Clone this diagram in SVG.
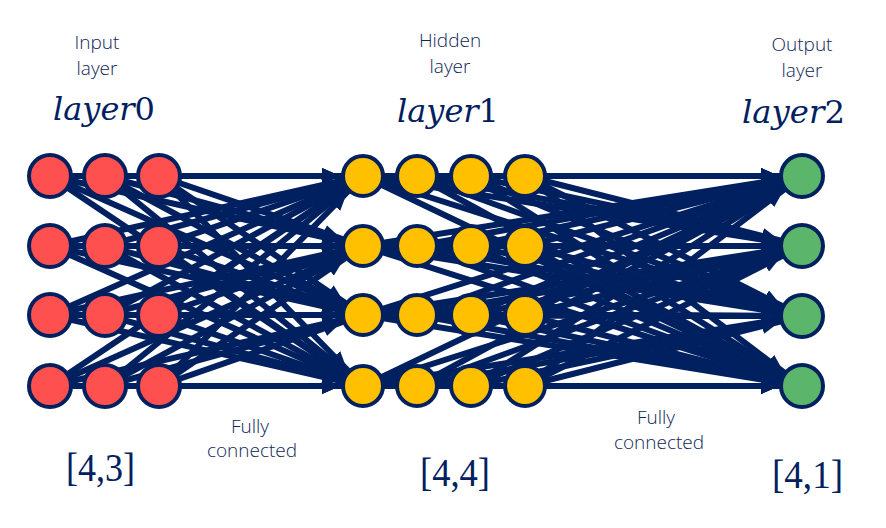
<svg xmlns="http://www.w3.org/2000/svg" width="886" height="528" viewBox="0 0 886 528">
<style>
.e{stroke:#002060;stroke-width:6;fill:none;marker-end:url(#ah)}
.n{stroke:#002060;stroke-width:4}
.r{fill:#FF5050}.y{fill:#FFC000}.g{fill:#5BB56A}
.lab{font-family:"Open Sans","Noto Sans",sans-serif;font-weight:300;font-size:19px;fill:#0f2658;text-anchor:middle}
.m{font-family:"DejaVu Serif",serif;font-style:italic;font-size:31px;fill:#002060}
.b{font-family:"Liberation Serif",serif;font-size:40px;fill:#002060}
</style>
<defs>
<marker id="ah" viewBox="0 0 18 16" refX="41" refY="8" markerWidth="18" markerHeight="16" markerUnits="userSpaceOnUse" orient="auto">
<path d="M0,0 L18,8 L0,16 Z" fill="#002060"/>
</marker>
</defs>
<rect width="886" height="528" fill="#fff"/>
<g id="connectors">
<line class="e" x1="50" y1="176" x2="363" y2="176"/><line class="e" x1="50" y1="176" x2="363" y2="246"/><line class="e" x1="50" y1="176" x2="363" y2="315"/><line class="e" x1="50" y1="176" x2="363" y2="386"/>
<line class="e" x1="50" y1="246" x2="363" y2="176"/><line class="e" x1="50" y1="246" x2="363" y2="246"/><line class="e" x1="50" y1="246" x2="363" y2="315"/><line class="e" x1="50" y1="246" x2="363" y2="386"/>
<line class="e" x1="50" y1="315" x2="363" y2="176"/><line class="e" x1="50" y1="315" x2="363" y2="246"/><line class="e" x1="50" y1="315" x2="363" y2="315"/><line class="e" x1="50" y1="315" x2="363" y2="386"/>
<line class="e" x1="50" y1="386" x2="363" y2="176"/><line class="e" x1="50" y1="386" x2="363" y2="246"/><line class="e" x1="50" y1="386" x2="363" y2="315"/><line class="e" x1="50" y1="386" x2="363" y2="386"/>
<line class="e" x1="105" y1="176" x2="363" y2="176"/><line class="e" x1="105" y1="176" x2="363" y2="246"/><line class="e" x1="105" y1="176" x2="363" y2="315"/><line class="e" x1="105" y1="176" x2="363" y2="386"/>
<line class="e" x1="105" y1="246" x2="363" y2="176"/><line class="e" x1="105" y1="246" x2="363" y2="246"/><line class="e" x1="105" y1="246" x2="363" y2="315"/><line class="e" x1="105" y1="246" x2="363" y2="386"/>
<line class="e" x1="105" y1="315" x2="363" y2="176"/><line class="e" x1="105" y1="315" x2="363" y2="246"/><line class="e" x1="105" y1="315" x2="363" y2="315"/><line class="e" x1="105" y1="315" x2="363" y2="386"/>
<line class="e" x1="105" y1="386" x2="363" y2="176"/><line class="e" x1="105" y1="386" x2="363" y2="246"/><line class="e" x1="105" y1="386" x2="363" y2="315"/><line class="e" x1="105" y1="386" x2="363" y2="386"/>
<line class="e" x1="159" y1="176" x2="363" y2="176"/><line class="e" x1="159" y1="176" x2="363" y2="246"/><line class="e" x1="159" y1="176" x2="363" y2="315"/><line class="e" x1="159" y1="176" x2="363" y2="386"/>
<line class="e" x1="159" y1="246" x2="363" y2="176"/><line class="e" x1="159" y1="246" x2="363" y2="246"/><line class="e" x1="159" y1="246" x2="363" y2="315"/><line class="e" x1="159" y1="246" x2="363" y2="386"/>
<line class="e" x1="159" y1="315" x2="363" y2="176"/><line class="e" x1="159" y1="315" x2="363" y2="246"/><line class="e" x1="159" y1="315" x2="363" y2="315"/><line class="e" x1="159" y1="315" x2="363" y2="386"/>
<line class="e" x1="159" y1="386" x2="363" y2="176"/><line class="e" x1="159" y1="386" x2="363" y2="246"/><line class="e" x1="159" y1="386" x2="363" y2="315"/><line class="e" x1="159" y1="386" x2="363" y2="386"/>

<line class="e" x1="363" y1="176" x2="802" y2="176"/><line class="e" x1="363" y1="176" x2="802" y2="246"/><line class="e" x1="363" y1="176" x2="802" y2="316"/><line class="e" x1="363" y1="176" x2="802" y2="386"/>
<line class="e" x1="363" y1="246" x2="802" y2="176"/><line class="e" x1="363" y1="246" x2="802" y2="246"/><line class="e" x1="363" y1="246" x2="802" y2="316"/><line class="e" x1="363" y1="246" x2="802" y2="386"/>
<line class="e" x1="363" y1="315" x2="802" y2="176"/><line class="e" x1="363" y1="315" x2="802" y2="246"/><line class="e" x1="363" y1="315" x2="802" y2="316"/><line class="e" x1="363" y1="315" x2="802" y2="386"/>
<line class="e" x1="363" y1="386" x2="802" y2="176"/><line class="e" x1="363" y1="386" x2="802" y2="246"/><line class="e" x1="363" y1="386" x2="802" y2="316"/><line class="e" x1="363" y1="386" x2="802" y2="386"/>
<line class="e" x1="417" y1="176" x2="802" y2="176"/><line class="e" x1="417" y1="176" x2="802" y2="246"/><line class="e" x1="417" y1="176" x2="802" y2="316"/><line class="e" x1="417" y1="176" x2="802" y2="386"/>
<line class="e" x1="417" y1="246" x2="802" y2="176"/><line class="e" x1="417" y1="246" x2="802" y2="246"/><line class="e" x1="417" y1="246" x2="802" y2="316"/><line class="e" x1="417" y1="246" x2="802" y2="386"/>
<line class="e" x1="417" y1="315" x2="802" y2="176"/><line class="e" x1="417" y1="315" x2="802" y2="246"/><line class="e" x1="417" y1="315" x2="802" y2="316"/><line class="e" x1="417" y1="315" x2="802" y2="386"/>
<line class="e" x1="417" y1="386" x2="802" y2="176"/><line class="e" x1="417" y1="386" x2="802" y2="246"/><line class="e" x1="417" y1="386" x2="802" y2="316"/><line class="e" x1="417" y1="386" x2="802" y2="386"/>
<line class="e" x1="471" y1="176" x2="802" y2="176"/><line class="e" x1="471" y1="176" x2="802" y2="246"/><line class="e" x1="471" y1="176" x2="802" y2="316"/><line class="e" x1="471" y1="176" x2="802" y2="386"/>
<line class="e" x1="471" y1="246" x2="802" y2="176"/><line class="e" x1="471" y1="246" x2="802" y2="246"/><line class="e" x1="471" y1="246" x2="802" y2="316"/><line class="e" x1="471" y1="246" x2="802" y2="386"/>
<line class="e" x1="471" y1="315" x2="802" y2="176"/><line class="e" x1="471" y1="315" x2="802" y2="246"/><line class="e" x1="471" y1="315" x2="802" y2="316"/><line class="e" x1="471" y1="315" x2="802" y2="386"/>
<line class="e" x1="471" y1="386" x2="802" y2="176"/><line class="e" x1="471" y1="386" x2="802" y2="246"/><line class="e" x1="471" y1="386" x2="802" y2="316"/><line class="e" x1="471" y1="386" x2="802" y2="386"/>
<line class="e" x1="525" y1="176" x2="802" y2="176"/><line class="e" x1="525" y1="176" x2="802" y2="246"/><line class="e" x1="525" y1="176" x2="802" y2="316"/><line class="e" x1="525" y1="176" x2="802" y2="386"/>
<line class="e" x1="525" y1="246" x2="802" y2="176"/><line class="e" x1="525" y1="246" x2="802" y2="246"/><line class="e" x1="525" y1="246" x2="802" y2="316"/><line class="e" x1="525" y1="246" x2="802" y2="386"/>
<line class="e" x1="525" y1="315" x2="802" y2="176"/><line class="e" x1="525" y1="315" x2="802" y2="246"/><line class="e" x1="525" y1="315" x2="802" y2="316"/><line class="e" x1="525" y1="315" x2="802" y2="386"/>
<line class="e" x1="525" y1="386" x2="802" y2="176"/><line class="e" x1="525" y1="386" x2="802" y2="246"/><line class="e" x1="525" y1="386" x2="802" y2="316"/><line class="e" x1="525" y1="386" x2="802" y2="386"/>
</g>

<g id="in-1-1"><circle class="n r" cx="50" cy="176" r="21"/></g>
<g id="in-1-2"><circle class="n r" cx="105" cy="176" r="21"/></g>
<g id="in-1-3"><circle class="n r" cx="159" cy="176" r="21"/></g>
<g id="in-2-1"><circle class="n r" cx="50" cy="246" r="21"/></g>
<g id="in-2-2"><circle class="n r" cx="105" cy="246" r="21"/></g>
<g id="in-2-3"><circle class="n r" cx="159" cy="246" r="21"/></g>
<g id="in-3-1"><circle class="n r" cx="50" cy="315" r="21"/></g>
<g id="in-3-2"><circle class="n r" cx="105" cy="315" r="21"/></g>
<g id="in-3-3"><circle class="n r" cx="159" cy="315" r="21"/></g>
<g id="in-4-1"><circle class="n r" cx="50" cy="386" r="21"/></g>
<g id="in-4-2"><circle class="n r" cx="105" cy="386" r="21"/></g>
<g id="in-4-3"><circle class="n r" cx="159" cy="386" r="21"/></g>

<g id="hid-1-1"><circle class="n y" cx="363" cy="176" r="20"/></g>
<g id="hid-1-2"><circle class="n y" cx="417" cy="176" r="20"/></g>
<g id="hid-1-3"><circle class="n y" cx="471" cy="176" r="20"/></g>
<g id="hid-1-4"><circle class="n y" cx="525" cy="176" r="20"/></g>
<g id="hid-2-1"><circle class="n y" cx="363" cy="246" r="20"/></g>
<g id="hid-2-2"><circle class="n y" cx="417" cy="246" r="20"/></g>
<g id="hid-2-3"><circle class="n y" cx="471" cy="246" r="20"/></g>
<g id="hid-2-4"><circle class="n y" cx="525" cy="246" r="20"/></g>
<g id="hid-3-1"><circle class="n y" cx="363" cy="315" r="20"/></g>
<g id="hid-3-2"><circle class="n y" cx="417" cy="315" r="20"/></g>
<g id="hid-3-3"><circle class="n y" cx="471" cy="315" r="20"/></g>
<g id="hid-3-4"><circle class="n y" cx="525" cy="315" r="20"/></g>
<g id="hid-4-1"><circle class="n y" cx="363" cy="386" r="20"/></g>
<g id="hid-4-2"><circle class="n y" cx="417" cy="386" r="20"/></g>
<g id="hid-4-3"><circle class="n y" cx="471" cy="386" r="20"/></g>
<g id="hid-4-4"><circle class="n y" cx="525" cy="386" r="20"/></g>

<g id="out-1"><circle class="n g" cx="802" cy="176" r="21"/></g>
<g id="out-2"><circle class="n g" cx="802" cy="246" r="21"/></g>
<g id="out-3"><circle class="n g" cx="802" cy="316" r="21"/></g>
<g id="out-4"><circle class="n g" cx="802" cy="386" r="21"/></g>

<g id="labels">
<text class="lab" x="97" y="49">Input</text>
<text class="lab" x="97" y="75">layer</text>
<text class="lab" x="450" y="47">Hidden</text>
<text class="lab" x="450" y="73">layer</text>
<text class="lab" x="802" y="51">Output</text>
<text class="lab" x="802" y="77">layer</text>
<text class="m" x="53" y="120" textLength="102" lengthAdjust="spacingAndGlyphs">layer<tspan font-style="normal">0</tspan></text>
<text class="m" x="397" y="122" textLength="102" lengthAdjust="spacingAndGlyphs">layer<tspan font-style="normal">1</tspan></text>
<text class="m" x="742" y="123" textLength="103" lengthAdjust="spacingAndGlyphs">layer<tspan font-style="normal">2</tspan></text>
<text class="lab" x="250" y="433">Fully</text>
<text class="lab" x="252" y="457">connected</text>
<text class="lab" x="656" y="424">Fully</text>
<text class="lab" x="659" y="449">connected</text>
<text class="b" x="66" y="481" textLength="69" lengthAdjust="spacingAndGlyphs">[4,3]</text>
<text class="b" x="420" y="486" textLength="70" lengthAdjust="spacingAndGlyphs">[4,4]</text>
<text class="b" x="772" y="488" textLength="71" lengthAdjust="spacingAndGlyphs">[4,1]</text>
</g>
</svg>
